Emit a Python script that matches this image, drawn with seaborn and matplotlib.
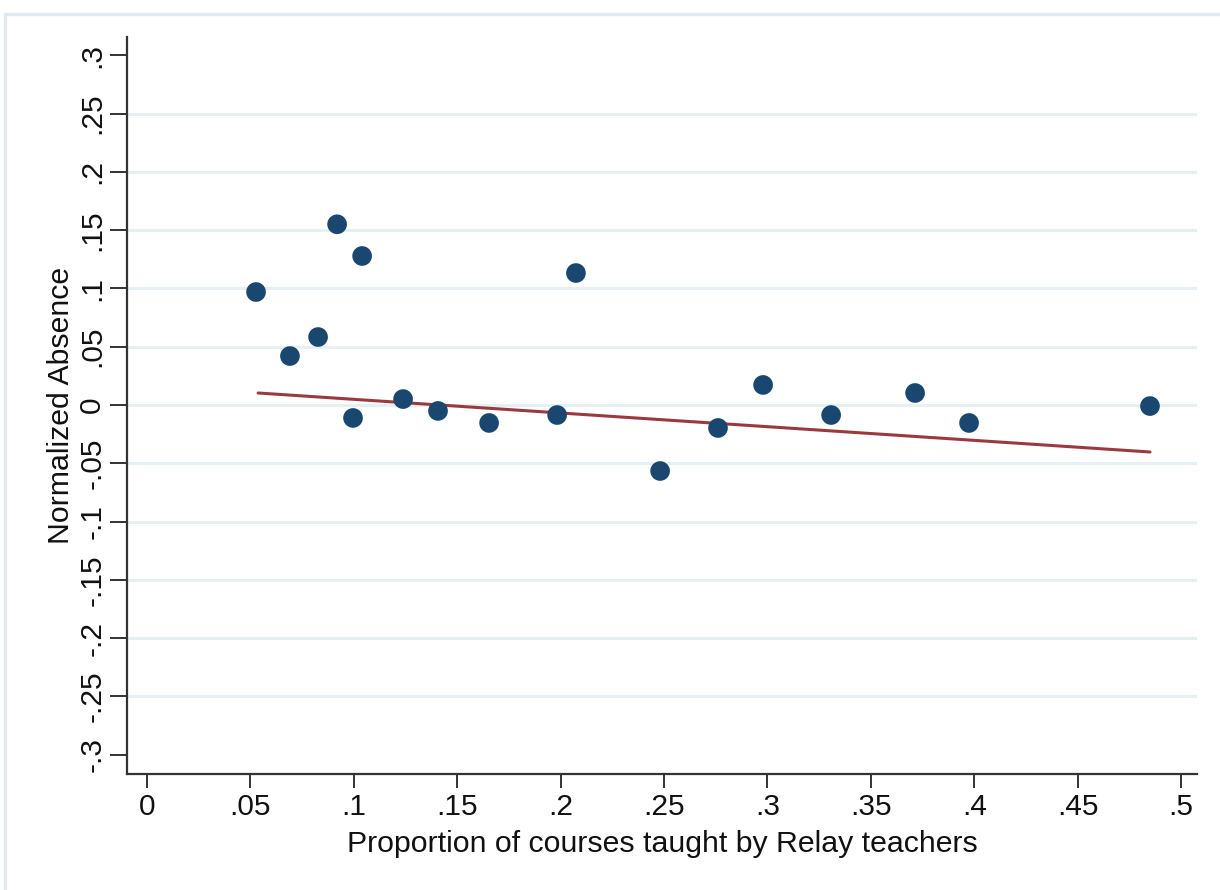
import matplotlib
matplotlib.use("Agg")
import matplotlib.pyplot as plt
import seaborn as sns
import pandas as pd
from matplotlib.patches import Rectangle

# ==========================
# Datos
# ==========================

prop_relay = [0.0527, 0.0691, 0.0827, 0.0919, 0.1040, 0.0996, 0.1238, 0.1407, 0.1654,
              0.1983, 0.2074, 0.2481, 0.2761, 0.2979, 0.3308, 0.3714, 0.3975, 0.4850]
ausencia = [0.0969, 0.0420, 0.0583, 0.1550, 0.1278, -0.0111, 0.0051, -0.0051, -0.0154,
            -0.0086, 0.1132, -0.0566, -0.0197, 0.0172, -0.0086, 0.0103, -0.0154, -0.0009]

# recta de ajuste lineal (extremos)
fit_x = [0.0537, 0.4850]
fit_y = [0.0103, -0.0403]

xticks = [0, 0.05, 0.1, 0.15, 0.2, 0.25, 0.3, 0.35, 0.4, 0.45, 0.5]
xtick_labels = ["0", ".05", ".1", ".15", ".2", ".25", ".3", ".35", ".4", ".45", ".5"]
yticks = [-0.3, -0.25, -0.2, -0.15, -0.1, -0.05, 0, 0.05, 0.1, 0.15, 0.2, 0.25, 0.3]
ytick_labels = ["-.3", "-.25", "-.2", "-.15", "-.1", "-.05", "0", ".05", ".1", ".15", ".2", ".25", ".3"]

df = pd.DataFrame({"prop": prop_relay, "abs": ausencia})
fit = pd.DataFrame({"x": fit_x, "y": fit_y})

# ==========================
# Grafico
# ==========================

sns.set_theme(style="white")
plt.rcParams["font.family"] = ["Liberation Sans", "DejaVu Sans"]

fig = plt.figure(figsize=(12.2, 8.9), dpi=100)
ax = fig.add_axes([0.1041, 0.1303, 0.9811 - 0.1041, 0.9584 - 0.1303])

# lineas de cuadricula (sin los extremos, como Stata)
for yv in yticks[1:-1]:
    ax.axhline(yv, color="#e6eff1", lw=2.2, zorder=0)

sns.lineplot(data=fit, x="x", y="y", ax=ax, color="#9b3a3e", lw=2.2, zorder=2)
sns.scatterplot(data=df, x="prop", y="abs", ax=ax, color="#1a476f", s=200,
                edgecolor="none", zorder=3)

ax.set_xlim(-0.0097, 0.5077)
ax.set_ylim(-0.3165, 0.3156)

ax.set_xticks(xticks)
ax.set_xticklabels(xtick_labels, fontsize=21.5)
ax.set_yticks(yticks)
ax.set_yticklabels(ytick_labels, fontsize=21.5, rotation=90, va="center")

ax.tick_params(axis="both", direction="out", length=10, width=1.4, color="#333333",
               labelcolor="#111111", pad=4, bottom=True, left=True)
ax.tick_params(axis="y", length=12, pad=3)

for s in ["top", "right"]:
    ax.spines[s].set_visible(False)
for s in ["left", "bottom"]:
    ax.spines[s].set_color("#333333")
    ax.spines[s].set_linewidth(1.6)

ax.set_xlabel("Proportion of courses taught by Relay teachers", fontsize=21.8,
              color="#111111", labelpad=6)
ax.set_ylabel("Normalized Absence", fontsize=21.8, color="#111111", labelpad=2)

# marco claro alrededor de la figura
fig.patches.append(Rectangle((0.004, -0.01), 1.2, 0.998 - 0.004, transform=fig.transFigure,
                             fill=False, edgecolor="#e3eaef", lw=2.5))

fig.savefig("out.png", dpi=100, facecolor="white")
